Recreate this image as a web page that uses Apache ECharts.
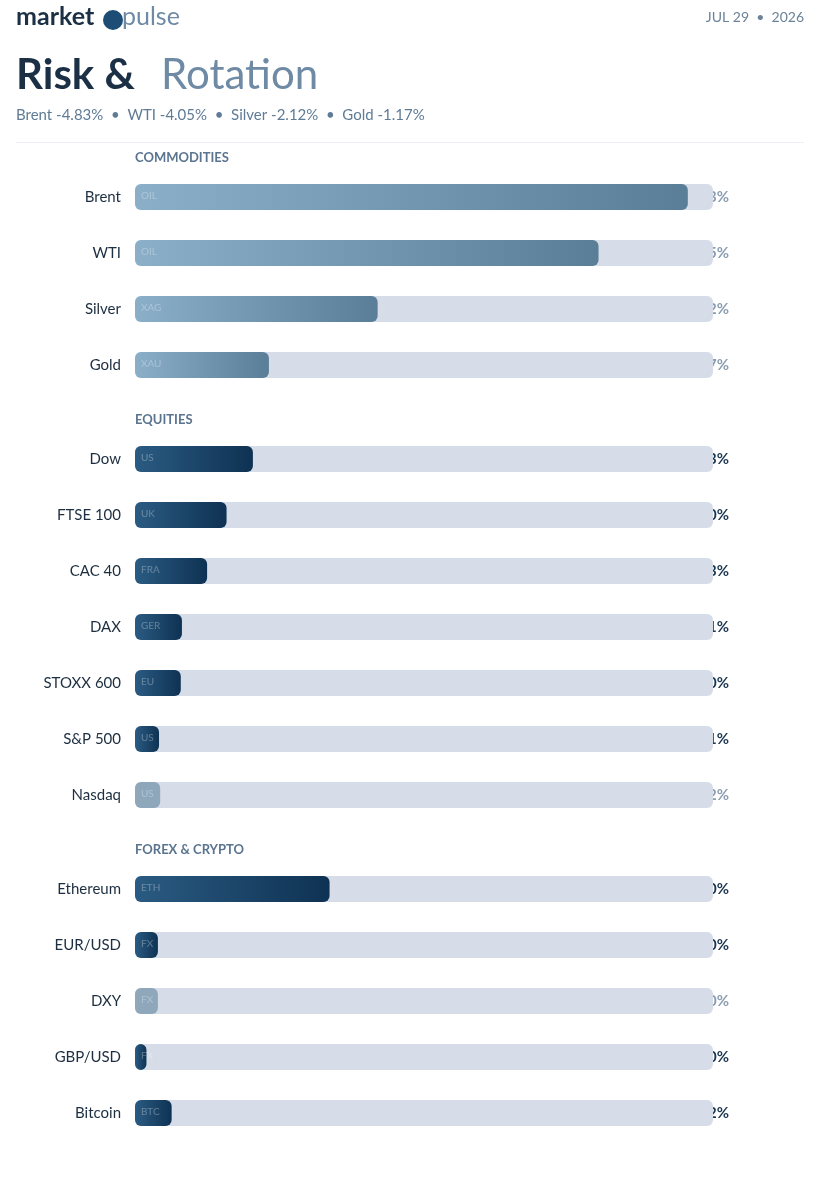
<!DOCTYPE html>
<html><head><meta charset="utf-8">
<script src="https://cdn.jsdelivr.net/npm/echarts@6/dist/echarts.min.js"></script>
<style>body{margin:0;background:#fff}#c{width:820px;height:1186px}</style>
</head><body><div id="c"></div>
<script>
// data
const groupNames = ['COMMODITIES', 'EQUITIES', 'FOREX & CRYPTO'];
const commNames = ['Brent', 'WTI', 'Silver', 'Gold'];
const commValues = [-4.83, -4.05, -2.12, -1.17];
const commTags = ['OIL', 'OIL', 'XAG', 'XAU'];
const eqNames = ['Dow', 'FTSE 100', 'CAC 40', 'DAX', 'STOXX 600', 'S&P 500', 'Nasdaq'];
const eqValues = [1.03, 0.80, 0.63, 0.41, 0.40, 0.21, -0.22];
const eqTags = ['US', 'UK', 'FRA', 'GER', 'EU', 'US', 'US'];
const fxNames = ['Ethereum', 'EUR/USD', 'DXY', 'GBP/USD', 'Bitcoin'];
const fxValues = [1.70, 0.20, -0.20, 0.10, 0.32];
const fxTags = ['ETH', 'FX', 'FX', 'FX', 'BTC'];

const chart = echarts.init(document.getElementById('c'));
const font = 'Lato, "Noto Sans", sans-serif';
const groups = [
  {names: commNames, values: commValues, tags: commTags, top: 169, comm: true},
  {names: eqNames, values: eqValues, tags: eqTags, top: 431},
  {names: fxNames, values: fxValues, tags: fxTags, top: 861}
];
const ROW = 56;

function fmt(v) {
  return v < 0 ? '\u2212' + v.toFixed(2) + '%' : '+' + v.toFixed(2) + '%';
}
function barColor(v, comm) {
  if (comm) return new echarts.graphic.LinearGradient(0, 0, 1, 0, [{offset: 0, color: '#8bafc9'}, {offset: 1, color: '#5a7e98'}]);
  if (v < 0) return '#8ea7bb';
  return new echarts.graphic.LinearGradient(0, 0, 1, 0, [{offset: 0, color: '#2b5b82'}, {offset: 1, color: '#0e3253'}]);
}

const grid = [], xAxis = [], yAxis = [], series = [], graphic = [];
groups.forEach((g, i) => {
  grid.push({left: 135, right: 107, top: g.top, height: g.names.length * ROW});
  xAxis.push({gridIndex: i, type: 'value', min: 0, max: 5.05, show: false});
  yAxis.push({gridIndex: i, type: 'category', inverse: true, data: g.names,
    axisLine: {show: false}, axisTick: {show: false},
    axisLabel: {color: '#1c2e40', fontSize: 15, fontFamily: font, margin: 14}});
  yAxis.push({gridIndex: i, type: 'category', inverse: true, position: 'right',
    data: g.values.map(fmt), axisLine: {show: false}, axisTick: {show: false},
    axisLabel: {align: 'right', margin: 16, fontSize: 15, fontFamily: font,
      formatter: (s, idx) => g.values[idx] < 0 ? '{n|' + s + '}' : '{p|' + s + '}',
      rich: {n: {color: '#8a9db0', fontSize: 15, fontWeight: 'bold', fontFamily: font},
             p: {color: '#1b3550', fontSize: 15, fontWeight: 'bold', fontFamily: font}}}});
  series.push({type: 'bar', xAxisIndex: i, yAxisIndex: i * 2, barWidth: 26,
    showBackground: true, backgroundStyle: {color: '#d6dde8', borderRadius: 6},
    data: g.values.map((v, k) => ({value: Math.abs(v), itemStyle: {color: barColor(v, g.comm), borderRadius: 6},
      label: {formatter: g.tags[k]}})),
    label: {show: true, position: 'insideLeft', offset: [0, -1], color: 'rgba(255,255,255,0.3)', fontSize: 10, fontFamily: font, distance: 6}
  });
  graphic.push({type: 'text', left: 135, top: g.top - 18, style: {text: groupNames[i], fill: '#5b7590', font: 'bold 13px ' + font}});
});

graphic.push(
  {type: 'text', left: 16, top: 4, style: {text: 'market', fill: '#1b2f45', font: 'bold 25px ' + font}},
  {type: 'circle', shape: {cx: 113, cy: 20, r: 10}, style: {fill: '#1d4d74'}},
  {type: 'text', left: 122, top: 4, style: {text: 'pulse', fill: '#6e8aa5', font: '25px ' + font}},
  {type: 'text', right: 16, top: 10, style: {text: 'JUL 29  \u2022  2026', fill: '#6b8299', font: '14px ' + font}},
  {type: 'text', left: 16, top: 54, style: {text: 'Risk &', fill: '#1b2f45', font: 'bold 42px ' + font}},
  {type: 'text', left: 161, top: 54, style: {text: 'Rotation', fill: '#6e8aa5', font: '42px ' + font}},
  {type: 'text', left: 16, top: 108, style: {text: 'Brent -4.83%  \u2022  WTI -4.05%  \u2022  Silver -2.12%  \u2022  Gold -1.17%', fill: '#5f7b96', font: '15px ' + font}},
  {type: 'rect', shape: {x: 16, y: 142, width: 788, height: 1}, style: {fill: '#eceff3'}}
);

chart.setOption({animation: false, grid, xAxis, yAxis, series, graphic});
</script></body></html>
